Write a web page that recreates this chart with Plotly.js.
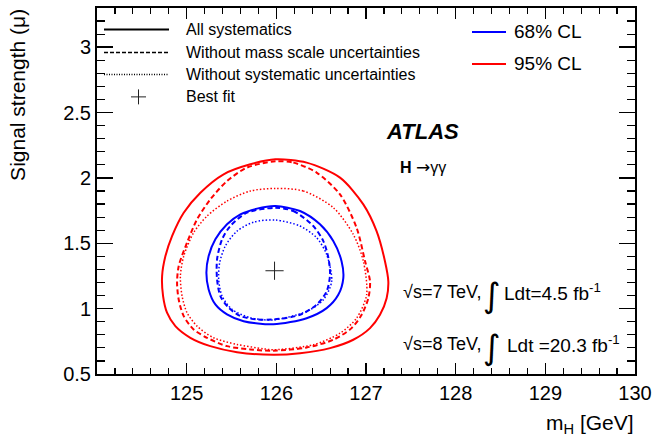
<!DOCTYPE html>
<html><head><meta charset="utf-8">
<script src="https://cdn.plot.ly/plotly-3.0.1.min.js"></script>
<style>html,body{margin:0;padding:0;background:#fff}</style>
</head><body><div id="chart" style="width:653px;height:436px"></div>
<script>
// ---- data ----
const red95AllX = [125.989,126.338,126.710,126.970,127.118,127.212,127.249,127.230,127.156,127.045,126.858,126.599,126.264,125.967,125.562,125.264,125.041,124.874,124.781,124.737,124.726,124.763,124.837,124.967,125.153,125.412,125.710];
const red95AllY = [2.142,2.117,2.002,1.798,1.593,1.361,1.208,1.080,0.953,0.851,0.762,0.698,0.659,0.647,0.667,0.713,0.777,0.866,0.969,1.096,1.249,1.402,1.555,1.734,1.887,2.028,2.104];
const red95NoMassX = [125.989,126.190,126.449,126.710,126.895,126.989,127.045,127.026,126.951,126.839,126.635,126.338,125.967,125.710,125.450,125.227,125.078,124.967,124.911,124.893,124.911,125.004,125.116,125.264,125.450,125.673];
const red95NoMassY = [2.127,2.117,2.041,1.874,1.619,1.364,1.208,1.080,0.953,0.851,0.762,0.703,0.678,0.688,0.713,0.777,0.841,0.943,1.070,1.198,1.325,1.505,1.683,1.836,1.976,2.079];
const red95StatX = [125.989,126.301,126.635,126.858,126.970,127.007,126.895,126.710,126.412,125.967,125.858,125.562,125.301,125.116,125.004,124.949,124.930,124.967,125.078,125.227,125.450,125.710];
const red95StatY = [1.920,1.900,1.773,1.568,1.364,1.106,0.927,0.812,0.724,0.685,0.693,0.726,0.777,0.866,0.969,1.096,1.249,1.402,1.581,1.708,1.823,1.900];
const blue68AllX = [125.989,126.264,126.487,126.635,126.728,126.747,126.691,126.561,126.338,125.967,125.635,125.450,125.320,125.245,125.220,125.245,125.320,125.450,125.599,125.785];
const blue68AllY = [1.785,1.747,1.645,1.517,1.361,1.234,1.106,1.004,0.927,0.880,0.904,0.956,1.032,1.147,1.275,1.402,1.530,1.645,1.721,1.765];
const blue68NoMassX = [125.989,126.190,126.412,126.524,126.580,126.599,126.561,126.449,126.264,125.967,125.785,125.599,125.468,125.376,125.339,125.339,125.395,125.487,125.673];
const blue68NoMassY = [1.771,1.747,1.632,1.517,1.390,1.260,1.132,1.030,0.953,0.917,0.917,0.943,1.007,1.096,1.224,1.377,1.530,1.632,1.734];
const blue68StatX = [125.989,126.264,126.449,126.561,126.617,126.524,126.338,125.967,125.710,125.506,125.395,125.357,125.368,125.431,125.562,125.747];
const blue68StatY = [1.678,1.632,1.543,1.415,1.208,1.068,0.979,0.914,0.930,0.994,1.096,1.224,1.351,1.479,1.593,1.662];
const bestFitMass = [125.98];
const bestFitMu = [1.29];

const xTickVals = [125,126,127,128,129,130];
const xTickText = ['125','126','127','128','129','130'];
const yTickVals = [0.5,1,1.5,2,2.5,3];
const yTickText = ['0.5','1','1.5','2','2.5','3'];

const styleLabels = ['All systematics','Without mass scale uncertainties','Without systematic uncertainties','Best fit'];
const clLabels = ['68% CL','95% CL'];
const energyLabels = ['√s=7 TeV,', '√s=8 TeV,'];
const lumiLabels = ['Ldt=4.5 fb<sup>-1</sup>', 'Ldt =20.3 fb<sup>-1</sup>'];

// ---- drawing ----
const FONT = 'Liberation Sans, Arial, Helvetica, sans-serif';
const RED = '#ff0000', BLUE = '#0000ff';
function closed(a){ return a.concat([a[0]]); }
function contour(xs, ys, color, dash, width){
  return {x: closed(xs), y: closed(ys), type:'scatter', mode:'lines',
    line:{color:color, dash:dash, width:width, shape:'spline', smoothing:0.8},
    showlegend:false, hoverinfo:'skip'};
}
const traces = [
  contour(red95AllX, red95AllY, RED, 'solid', 2),
  contour(red95NoMassX, red95NoMassY, RED, '5px,3px', 2),
  contour(red95StatX, red95StatY, RED, '1.5px,2px', 1.5),
  contour(blue68AllX, blue68AllY, BLUE, 'solid', 2),
  contour(blue68NoMassX, blue68NoMassY, BLUE, '5px,3px', 2),
  contour(blue68StatX, blue68StatY, BLUE, '1.5px,2px', 1.5),
  {x: bestFitMass, y: bestFitMu, type:'scatter', mode:'markers',
   marker:{symbol:'cross-thin', size:13, line:{color:'#222', width:1}}, showlegend:false}
];

// pixel -> paper helpers (plot area)
const L=97, R=635, T=8, B=374.5;
function P(px){ return (px-L)/(R-L); }
function Q(py){ return (B-py)/(B-T); }

const shapes = [];
const ann = [];
// style legend
const legY = [29.5, 52.5, 74.5, 97];
for (let i=0;i<3;i++){
  shapes.push({type:'line', xref:'paper', yref:'paper', x0:P(104), x1:P(169), y0:Q(legY[i]), y1:Q(legY[i]),
    line:{color:'#000', width: i==0?2:1.5, dash: i==1?'4px,2px':(i==2?'1px,1.5px':'solid')}});
}
shapes.push({type:'line', xref:'paper', yref:'paper', x0:P(131), x1:P(146), y0:Q(legY[3]), y1:Q(legY[3]), line:{color:'#222', width:1}});
shapes.push({type:'line', xref:'paper', yref:'paper', x0:P(138.5), x1:P(138.5), y0:Q(legY[3]-7.5), y1:Q(legY[3]+7.5), line:{color:'#222', width:1}});
for (let i=0;i<4;i++){
  ann.push({xref:'paper', yref:'paper', x:P(184), y:Q(legY[i]), xanchor:'left', yanchor:'middle',
    text: styleLabels[i], showarrow:false, font:{family:FONT, size:16, color:'#000'}});
}
// CL legend
const clY = [32, 64], clCol = [BLUE, RED];
for (let i=0;i<2;i++){
  shapes.push({type:'line', xref:'paper', yref:'paper', x0:P(472), x1:P(506), y0:Q(clY[i]), y1:Q(clY[i]), line:{color:clCol[i], width:2}});
  ann.push({xref:'paper', yref:'paper', x:P(512), y:Q(clY[i]), xanchor:'left', yanchor:'middle',
    text: clLabels[i], showarrow:false, font:{family:FONT, size:19, color:'#000'}});
}
// ATLAS labels
ann.push({xref:'paper', yref:'paper', x:P(384), y:Q(132), xanchor:'left', yanchor:'middle',
  text:'<b><i>ATLAS</i></b>', showarrow:false, font:{family:FONT, size:22, color:'#000'}});
ann.push({xref:'paper', yref:'paper', x:P(398), y:Q(167), xanchor:'left', yanchor:'middle',
  text:'<b>H</b> <span style="font-family:DejaVu Sans;font-size:17px">→</span>γγ', showarrow:false, font:{family:FONT, size:16, color:'#000'}});
// energy / luminosity lines
const eY = [292, 344], lumiX = [502, 505];
for (let i=0;i<2;i++){
  ann.push({xref:'paper', yref:'paper', x:P(401), y:Q(eY[i]), xanchor:'left', yanchor:'middle',
    text: energyLabels[i], showarrow:false, font:{family:FONT, size:18, color:'#000'}});
  ann.push({xref:'paper', yref:'paper', x:P(491.5), y:Q(eY[i]+3), xanchor:'center', yanchor:'middle',
    text: '∫', showarrow:false, font:{family:'DejaVu Sans', size:34, color:'#000'}});
  ann.push({xref:'paper', yref:'paper', x:P(lumiX[i]), y:Q(eY[i]), xanchor:'left', yanchor:'middle',
    text: lumiLabels[i], showarrow:false, font:{family:FONT, size:19, color:'#000'}});
}
// axis titles
ann.push({xref:'paper', yref:'paper', x:P(636), y:Q(425), xanchor:'right', yanchor:'middle',
  text:'m<sub>H</sub> [GeV]', showarrow:false, font:{family:FONT, size:21, color:'#000'}});
ann.push({xref:'paper', yref:'paper', x:P(18), y:Q(95), xanchor:'center', yanchor:'middle', textangle:-90,
  text:'Signal strength (μ)', showarrow:false, font:{family:FONT, size:21, color:'#000'}});

const axisCommon = {showgrid:false, zeroline:false, showline:true, linecolor:'#000', linewidth:2,
  mirror:'allticks', ticks:'inside', tickcolor:'#000', tickwidth:1.5,
  tickfont:{family:FONT, size:20, color:'#000'}, tickmode:'array'};

const layout = {
  width:653, height:436, margin:{l:L, r:653-R, t:T, b:436-B},
  paper_bgcolor:'#fff', plot_bgcolor:'#fff', showlegend:false,
  xaxis: Object.assign({}, axisCommon, {range:[124,130], tickvals:xTickVals, ticktext:xTickText, ticklen:11,
    minor:{tickmode:'linear', tick0:124, dtick:0.2, ticks:'inside', ticklen:6, tickwidth:1.2, tickcolor:'#000'}}),
  yaxis: Object.assign({}, axisCommon, {range:[0.5,3.3], tickvals:yTickVals, ticktext:yTickText, ticklen:16,
    minor:{tickmode:'linear', tick0:0.5, dtick:0.1, ticks:'inside', ticklen:8, tickwidth:1.2, tickcolor:'#000'}}),
  shapes: shapes, annotations: ann, font:{family:FONT, color:'#000'}
};
Plotly.newPlot('chart', traces, layout, {staticPlot:true, displayModeBar:false});
</script></body></html>
